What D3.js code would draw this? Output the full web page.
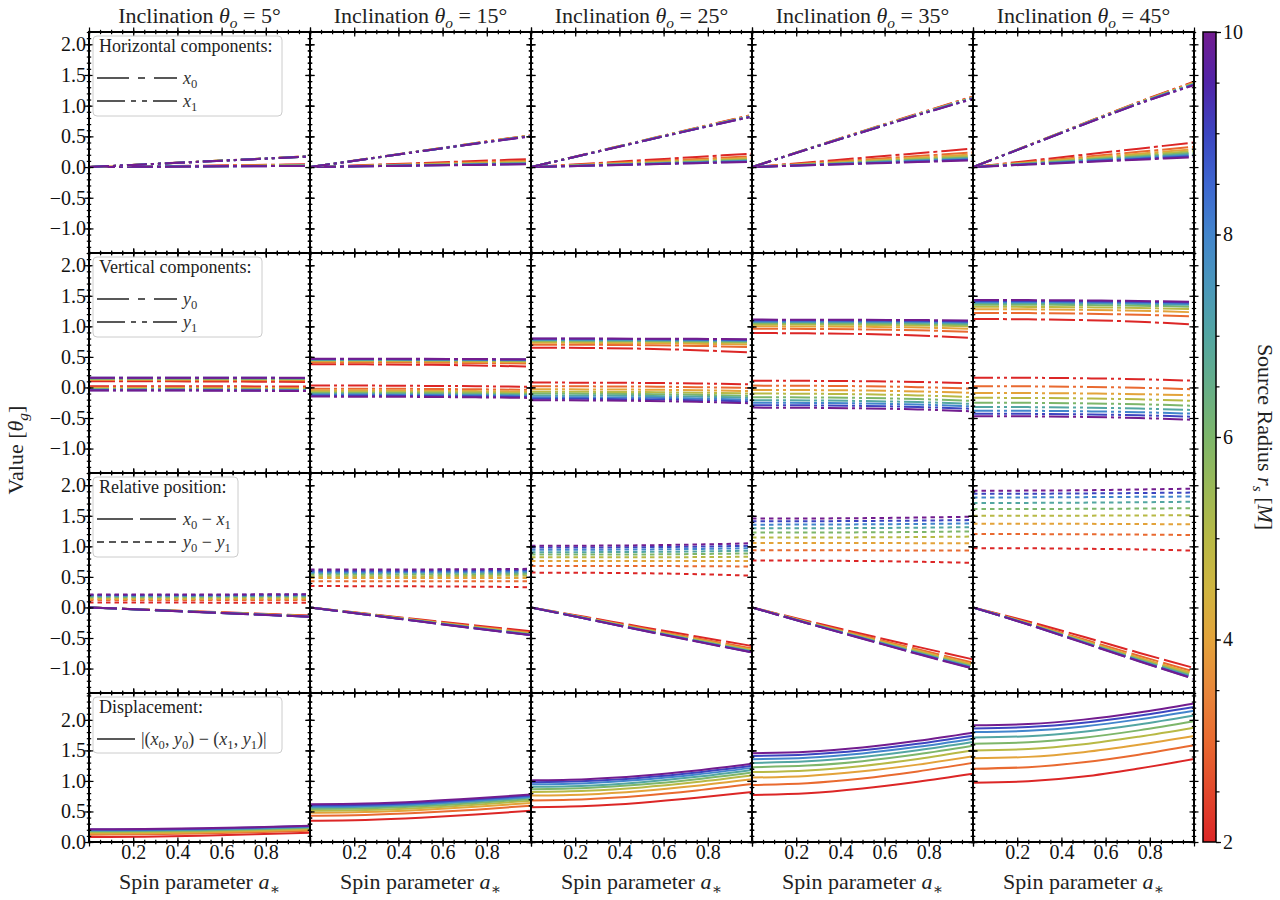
<!DOCTYPE html>
<html>
<head>
<meta charset="utf-8">
<script src="https://cdnjs.cloudflare.com/ajax/libs/d3/7.8.5/d3.min.js"></script>
<style>
  body { margin: 0; background: #fff; }
  svg { font-family: "Liberation Serif", "DejaVu Serif", serif; }
</style>
</head>
<body>
<svg id="chart" width="1280" height="900"></svg>
<script>
const inclinations = [5, 15, 25, 35, 45];
const radii = [2, 3, 4, 5, 6, 7, 8, 9, 10];
const spins = [0, 0.25, 0.5, 0.75, 1.0];
const yTicksUpper = [-1.0, -0.5, 0.0, 0.5, 1.0, 1.5, 2.0];
const yTicksLower = [0.0, 0.5, 1.0, 1.5, 2.0];
const xTicks = [0.2, 0.4, 0.6, 0.8];
const cbarTicks = [2, 4, 6, 8, 10];

// values: [inclination][radius][spin sample]
const x0Vals = [
  [[0,0.011,0.022,0.034,0.045],[0,0.009,0.018,0.027,0.036],[0,0.008,0.016,0.023,0.031],[0,0.007,0.014,0.021,0.028],[0,0.006,0.013,0.019,0.025],[0,0.006,0.012,0.017,0.023],[0,0.005,0.011,0.016,0.021],[0,0.005,0.010,0.014,0.019],[0,0.005,0.009,0.014,0.018]],
  [[0,0.032,0.065,0.098,0.13],[0,0.026,0.052,0.079,0.105],[0,0.022,0.045,0.068,0.09],[0,0.020,0.039,0.058,0.078],[0,0.017,0.034,0.052,0.069],[0,0.015,0.031,0.046,0.062],[0,0.014,0.028,0.042,0.056],[0,0.013,0.026,0.038,0.051],[0,0.012,0.024,0.035,0.047]],
  [[0,0.055,0.11,0.165,0.22],[0,0.044,0.088,0.131,0.175],[0,0.038,0.075,0.112,0.15],[0,0.033,0.066,0.099,0.132],[0,0.029,0.058,0.088,0.117],[0,0.027,0.053,0.080,0.106],[0,0.024,0.049,0.073,0.097],[0,0.022,0.045,0.068,0.09],[0,0.021,0.042,0.064,0.085]],
  [[0,0.075,0.15,0.225,0.30],[0,0.06,0.12,0.18,0.24],[0,0.051,0.102,0.154,0.205],[0,0.045,0.09,0.135,0.18],[0,0.04,0.08,0.12,0.16],[0,0.036,0.072,0.109,0.145],[0,0.033,0.066,0.099,0.132],[0,0.03,0.06,0.09,0.12],[0,0.028,0.055,0.082,0.11]],
  [[0,0.10,0.20,0.30,0.40],[0,0.082,0.165,0.248,0.33],[0,0.072,0.145,0.218,0.29],[0,0.065,0.13,0.195,0.26],[0,0.059,0.118,0.176,0.235],[0,0.053,0.106,0.159,0.212],[0,0.048,0.096,0.145,0.193],[0,0.044,0.088,0.132,0.176],[0,0.04,0.08,0.12,0.16]]
];
const x1Vals = [
  [[0,0.044,0.088,0.132,0.178],[0,0.044,0.088,0.131,0.177],[0,0.043,0.087,0.131,0.176],[0,0.043,0.087,0.130,0.175],[0,0.043,0.087,0.130,0.175],[0,0.043,0.086,0.130,0.174],[0,0.043,0.086,0.129,0.173],[0,0.043,0.086,0.129,0.173],[0,0.043,0.086,0.129,0.172]],
  [[0,0.131,0.262,0.392,0.52],[0,0.130,0.260,0.389,0.516],[0,0.130,0.259,0.387,0.513],[0,0.129,0.258,0.386,0.511],[0,0.129,0.257,0.385,0.509],[0,0.129,0.257,0.384,0.507],[0,0.128,0.256,0.383,0.505],[0,0.128,0.256,0.382,0.503],[0,0.128,0.255,0.381,0.50]],
  [[0,0.213,0.428,0.64,0.85],[0,0.212,0.425,0.636,0.845],[0,0.211,0.423,0.633,0.84],[0,0.21,0.421,0.631,0.836],[0,0.21,0.42,0.629,0.833],[0,0.209,0.419,0.627,0.83],[0,0.209,0.418,0.625,0.827],[0,0.208,0.417,0.623,0.824],[0,0.208,0.416,0.622,0.82]],
  [[0,0.296,0.585,0.87,1.15],[0,0.294,0.58,0.864,1.143],[0,0.293,0.578,0.86,1.137],[0,0.292,0.576,0.857,1.132],[0,0.291,0.574,0.854,1.128],[0,0.29,0.572,0.851,1.124],[0,0.289,0.57,0.849,1.12],[0,0.288,0.569,0.847,1.115],[0,0.287,0.567,0.845,1.11]],
  [[0,0.355,0.71,1.06,1.39],[0,0.354,0.707,1.055,1.38],[0,0.352,0.704,1.05,1.372],[0,0.351,0.702,1.046,1.365],[0,0.35,0.70,1.042,1.358],[0,0.349,0.698,1.039,1.352],[0,0.348,0.696,1.036,1.346],[0,0.347,0.694,1.033,1.34],[0,0.346,0.692,1.03,1.333]]
];
const y0Vals = [
  [[0.10,0.10,0.098,0.095,0.09],[0.12,0.12,0.119,0.118,0.115],[0.13,0.13,0.129,0.128,0.126],[0.14,0.14,0.139,0.138,0.137],[0.145,0.145,0.145,0.144,0.143],[0.15,0.15,0.15,0.149,0.148],[0.155,0.155,0.155,0.154,0.153],[0.158,0.158,0.158,0.157,0.156],[0.16,0.16,0.16,0.159,0.158]],
  [[0.38,0.378,0.372,0.36,0.34],[0.41,0.409,0.406,0.40,0.39],[0.43,0.429,0.426,0.42,0.41],[0.44,0.44,0.438,0.435,0.43],[0.45,0.45,0.448,0.445,0.44],[0.455,0.455,0.453,0.45,0.445],[0.46,0.46,0.458,0.455,0.45],[0.465,0.465,0.463,0.46,0.455],[0.47,0.47,0.468,0.465,0.46]],
  [[0.65,0.646,0.634,0.61,0.57],[0.70,0.698,0.692,0.68,0.66],[0.73,0.729,0.724,0.715,0.70],[0.75,0.749,0.746,0.74,0.73],[0.765,0.764,0.761,0.755,0.745],[0.775,0.774,0.772,0.768,0.76],[0.785,0.785,0.782,0.778,0.77],[0.795,0.795,0.792,0.788,0.78],[0.80,0.80,0.798,0.795,0.79]],
  [[0.89,0.886,0.874,0.85,0.81],[0.96,0.958,0.95,0.935,0.91],[1.0,0.998,0.992,0.98,0.96],[1.03,1.029,1.024,1.015,1.0],[1.05,1.049,1.045,1.038,1.025],[1.07,1.069,1.066,1.06,1.045],[1.085,1.084,1.081,1.076,1.065],[1.10,1.099,1.096,1.09,1.08],[1.11,1.109,1.107,1.103,1.095]],
  [[1.12,1.115,1.102,1.075,1.03],[1.22,1.217,1.208,1.19,1.16],[1.28,1.278,1.27,1.255,1.23],[1.32,1.318,1.312,1.30,1.28],[1.355,1.353,1.348,1.338,1.32],[1.38,1.378,1.374,1.365,1.35],[1.40,1.398,1.394,1.385,1.37],[1.415,1.414,1.41,1.403,1.39],[1.43,1.429,1.424,1.415,1.40]]
];
const y1Vals = [
  [[0.02,0.02,0.019,0.017,0.015],[0.0,0.0,-0.001,-0.003,-0.006],[-0.01,-0.01,-0.011,-0.014,-0.017],[-0.02,-0.02,-0.021,-0.024,-0.028],[-0.03,-0.03,-0.031,-0.034,-0.038],[-0.035,-0.035,-0.036,-0.039,-0.044],[-0.04,-0.04,-0.041,-0.045,-0.05],[-0.045,-0.045,-0.046,-0.05,-0.055],[-0.05,-0.05,-0.052,-0.055,-0.06]],
  [[0.03,0.03,0.026,0.02,0.01],[-0.02,-0.02,-0.024,-0.03,-0.04],[-0.05,-0.05,-0.054,-0.06,-0.07],[-0.07,-0.07,-0.074,-0.08,-0.09],[-0.09,-0.09,-0.094,-0.10,-0.11],[-0.11,-0.11,-0.114,-0.12,-0.13],[-0.12,-0.121,-0.125,-0.132,-0.142],[-0.135,-0.136,-0.14,-0.147,-0.158],[-0.15,-0.151,-0.155,-0.162,-0.172]],
  [[0.08,0.078,0.074,0.065,0.05],[0.02,0.018,0.014,0.005,-0.01],[-0.03,-0.032,-0.036,-0.045,-0.06],[-0.07,-0.072,-0.076,-0.085,-0.10],[-0.10,-0.102,-0.108,-0.12,-0.14],[-0.13,-0.132,-0.138,-0.15,-0.17],[-0.16,-0.162,-0.168,-0.18,-0.20],[-0.185,-0.187,-0.194,-0.208,-0.23],[-0.21,-0.212,-0.22,-0.235,-0.26]],
  [[0.11,0.108,0.102,0.09,0.07],[0.03,0.027,0.02,0.005,-0.02],[-0.04,-0.043,-0.05,-0.065,-0.09],[-0.10,-0.103,-0.112,-0.13,-0.16],[-0.16,-0.163,-0.172,-0.19,-0.22],[-0.21,-0.213,-0.222,-0.24,-0.27],[-0.25,-0.253,-0.262,-0.28,-0.31],[-0.29,-0.293,-0.302,-0.32,-0.35],[-0.33,-0.333,-0.342,-0.36,-0.39]],
  [[0.16,0.158,0.15,0.135,0.11],[0.02,0.018,0.01,-0.005,-0.03],[-0.09,-0.092,-0.098,-0.11,-0.13],[-0.17,-0.172,-0.18,-0.195,-0.22],[-0.25,-0.252,-0.26,-0.275,-0.30],[-0.32,-0.322,-0.33,-0.345,-0.37],[-0.38,-0.382,-0.39,-0.405,-0.43],[-0.43,-0.432,-0.44,-0.455,-0.48],[-0.47,-0.473,-0.482,-0.50,-0.53]]
];
const dxVals = [
  [[0,-0.033,-0.066,-0.098,-0.133],[0,-0.035,-0.07,-0.104,-0.141],[0,-0.035,-0.071,-0.108,-0.145],[0,-0.036,-0.073,-0.109,-0.147],[0,-0.037,-0.074,-0.111,-0.15],[0,-0.037,-0.074,-0.113,-0.151],[0,-0.038,-0.075,-0.113,-0.152],[0,-0.038,-0.076,-0.115,-0.154],[0,-0.038,-0.077,-0.115,-0.154]],
  [[0,-0.099,-0.197,-0.294,-0.39],[0,-0.104,-0.208,-0.31,-0.411],[0,-0.108,-0.214,-0.319,-0.423],[0,-0.109,-0.219,-0.328,-0.433],[0,-0.112,-0.223,-0.333,-0.44],[0,-0.114,-0.226,-0.338,-0.445],[0,-0.114,-0.228,-0.341,-0.449],[0,-0.115,-0.23,-0.344,-0.452],[0,-0.116,-0.231,-0.346,-0.453]],
  [[0,-0.158,-0.318,-0.475,-0.63],[0,-0.168,-0.337,-0.505,-0.67],[0,-0.173,-0.348,-0.521,-0.69],[0,-0.177,-0.355,-0.532,-0.704],[0,-0.181,-0.362,-0.541,-0.716],[0,-0.182,-0.366,-0.547,-0.724],[0,-0.185,-0.369,-0.552,-0.73],[0,-0.186,-0.372,-0.555,-0.734],[0,-0.187,-0.374,-0.558,-0.735]],
  [[0,-0.221,-0.435,-0.645,-0.85],[0,-0.234,-0.46,-0.684,-0.903],[0,-0.242,-0.476,-0.706,-0.932],[0,-0.247,-0.486,-0.722,-0.952],[0,-0.251,-0.494,-0.734,-0.968],[0,-0.254,-0.50,-0.745,-0.979],[0,-0.256,-0.504,-0.75,-0.988],[0,-0.258,-0.509,-0.757,-0.995],[0,-0.259,-0.512,-0.763,-1.0]],
  [[0,-0.23,-0.48,-0.74,-0.99],[0,-0.25,-0.52,-0.79,-1.05],[0,-0.26,-0.54,-0.82,-1.08],[0,-0.265,-0.55,-0.84,-1.105],[0,-0.27,-0.56,-0.85,-1.125],[0,-0.273,-0.567,-0.862,-1.14],[0,-0.276,-0.572,-0.87,-1.153],[0,-0.278,-0.576,-0.876,-1.164],[0,-0.28,-0.58,-0.88,-1.17]]
];
const dyVals = [
  [[0.08,0.08,0.079,0.078,0.075],[0.12,0.12,0.12,0.121,0.121],[0.14,0.14,0.14,0.142,0.143],[0.16,0.16,0.16,0.162,0.165],[0.175,0.175,0.176,0.178,0.181],[0.185,0.185,0.186,0.188,0.192],[0.195,0.195,0.196,0.199,0.203],[0.203,0.203,0.204,0.207,0.211],[0.21,0.21,0.212,0.214,0.218]],
  [[0.35,0.348,0.345,0.34,0.33],[0.43,0.43,0.43,0.43,0.43],[0.48,0.48,0.48,0.48,0.48],[0.51,0.51,0.512,0.515,0.52],[0.54,0.54,0.542,0.545,0.55],[0.565,0.565,0.567,0.57,0.575],[0.58,0.58,0.582,0.586,0.592],[0.60,0.60,0.602,0.607,0.613],[0.62,0.62,0.622,0.626,0.632]],
  [[0.57,0.567,0.56,0.545,0.52],[0.68,0.68,0.678,0.675,0.67],[0.76,0.76,0.76,0.76,0.76],[0.82,0.82,0.821,0.824,0.83],[0.865,0.865,0.867,0.874,0.885],[0.905,0.905,0.909,0.916,0.93],[0.945,0.945,0.949,0.957,0.97],[0.98,0.981,0.986,0.995,1.01],[1.01,1.011,1.017,1.03,1.05]],
  [[0.77,0.767,0.76,0.748,0.73],[0.935,0.935,0.934,0.932,0.93],[1.055,1.055,1.054,1.052,1.05],[1.145,1.145,1.147,1.152,1.16],[1.225,1.226,1.229,1.235,1.245],[1.295,1.296,1.299,1.305,1.315],[1.355,1.356,1.36,1.366,1.375],[1.41,1.411,1.415,1.421,1.43],[1.455,1.456,1.461,1.471,1.485]],
  [[0.97,0.968,0.96,0.95,0.93],[1.20,1.20,1.197,1.192,1.185],[1.37,1.37,1.368,1.365,1.36],[1.50,1.50,1.502,1.505,1.51],[1.61,1.611,1.614,1.618,1.625],[1.71,1.711,1.715,1.721,1.73],[1.80,1.801,1.805,1.81,1.815],[1.86,1.861,1.866,1.872,1.88],[1.91,1.912,1.918,1.93,1.945]]
];
const dispVals = [
  [[0.08,0.087,0.103,0.125,0.153],[0.12,0.125,0.139,0.16,0.186],[0.14,0.144,0.157,0.178,0.204],[0.16,0.164,0.176,0.196,0.221],[0.175,0.179,0.19,0.21,0.235],[0.185,0.189,0.2,0.219,0.244],[0.195,0.199,0.21,0.229,0.254],[0.203,0.206,0.218,0.236,0.261],[0.21,0.213,0.226,0.243,0.267]],
  [[0.35,0.362,0.397,0.449,0.511],[0.43,0.442,0.478,0.53,0.595],[0.48,0.492,0.526,0.576,0.64],[0.51,0.522,0.557,0.611,0.677],[0.54,0.551,0.586,0.639,0.704],[0.565,0.576,0.61,0.663,0.727],[0.58,0.591,0.625,0.678,0.743],[0.60,0.611,0.644,0.698,0.762],[0.62,0.631,0.664,0.715,0.778]],
  [[0.57,0.589,0.644,0.723,0.817],[0.68,0.70,0.757,0.843,0.948],[0.76,0.779,0.836,0.921,1.026],[0.82,0.839,0.894,0.981,1.088],[0.865,0.884,0.94,1.028,1.138],[0.905,0.923,0.98,1.067,1.179],[0.945,0.963,1.018,1.105,1.214],[0.98,0.998,1.054,1.139,1.249],[1.01,1.028,1.084,1.171,1.282]],
  [[0.77,0.798,0.876,0.988,1.12],[0.935,0.964,1.041,1.156,1.296],[1.055,1.082,1.157,1.267,1.404],[1.145,1.171,1.246,1.359,1.501],[1.225,1.251,1.324,1.437,1.577],[1.295,1.321,1.392,1.503,1.639],[1.355,1.38,1.45,1.558,1.693],[1.41,1.434,1.504,1.61,1.742],[1.455,1.479,1.548,1.657,1.79]],
  [[0.97,0.995,1.073,1.204,1.358],[1.20,1.226,1.305,1.43,1.583],[1.37,1.394,1.471,1.592,1.737],[1.50,1.523,1.60,1.724,1.871],[1.61,1.633,1.708,1.828,1.976],[1.71,1.733,1.806,1.925,2.072],[1.80,1.822,1.893,2.008,2.15],[1.86,1.882,1.953,2.067,2.211],[1.91,1.932,2.004,2.121,2.27]]
];

// colormap: source radius -> colour
const cmapStops = [2, 2.5, 3, 3.5, 4, 4.5, 5, 5.5, 6, 6.5, 7, 7.5, 8, 8.5, 9, 9.5, 10];
const cmapColors = ["#dc2626", "#e2482c", "#e96a30", "#e8873a", "#e3a33a", "#d0b540", "#b8b945",
  "#9bb957", "#7db66a", "#66ae88", "#53a6a2", "#4a97bb", "#4285cc", "#3d66d0", "#3c45c0", "#5124a8", "#721c8f"];

const frame = {left: 89, top: 32, colWidth: 221, rowHeights: [221, 220, 220, 149]};
const rowTops = frame.rowHeights.map((h, i) => frame.top + d3.sum(frame.rowHeights.slice(0, i)));
const bottom = frame.top + d3.sum(frame.rowHeights);

const DASH_DOT = "26,4,4,4";
const DASH_DOT_DOT = "20,4,3,4,3,4";
const LONG_DASH = "28,5";
const SHORT_DASH = "4.5,4";

const LABEL_SIZE = 22;
const TICK_SIZE = 20;
const LEGEND_SIZE = 18;

const rows = [
  {domain: [-1.4, 2.2], ticks: yTicksUpper, title: "Horizontal components:", boxW: 189, handle: 80,
   series: [
     {values: x0Vals, dash: DASH_DOT, legendDash: "32,9,7,9", label: [["x", "i"], ["0", "s"]]},
     {values: x1Vals, dash: DASH_DOT_DOT, legendDash: "28,6,5,6,5,6", label: [["x", "i"], ["1", "s"]]}
   ]},
  {domain: [-1.4, 2.2], ticks: yTicksUpper, title: "Vertical components:", boxW: 169, handle: 80,
   series: [
     {values: y0Vals, dash: DASH_DOT, legendDash: "32,9,7,9", label: [["y", "i"], ["0", "s"]]},
     {values: y1Vals, dash: DASH_DOT_DOT, legendDash: "28,6,5,6,5,6", label: [["y", "i"], ["1", "s"]]}
   ]},
  {domain: [-1.4, 2.2], ticks: yTicksUpper, title: "Relative position:", boxW: 145, handle: 80,
   series: [
     {values: dxVals, dash: LONG_DASH, legendDash: "36,7", label: [["x", "i"], ["0", "s"], [" − ", "n"], ["x", "i"], ["1", "s"]]},
     {values: dyVals, dash: SHORT_DASH, legendDash: "7,5", label: [["y", "i"], ["0", "s"], [" − ", "n"], ["y", "i"], ["1", "s"]]}
   ]},
  {domain: [0, 2.44], ticks: yTicksLower, title: "Displacement:", boxW: 189, handle: 38,
   series: [
     {values: dispVals, dash: null, legendDash: null,
      label: [["|(", "n"], ["x", "i"], ["0", "s"], [", ", "n"], ["y", "i"], ["0", "s"], [") − (", "n"],
              ["x", "i"], ["1", "s"], [", ", "n"], ["y", "i"], ["1", "s"], [")|", "n"]]}
   ]}
];

// write text with italic parts and subscripts
const mathText = (sel, parts, size) => {
  let shift = 0;
  parts.forEach(([txt, kind]) => {
    const sub = kind.startsWith("s");
    const target = sub ? size * 0.22 : 0;
    sel.append("tspan")
      .attr("dy", target - shift)
      .attr("font-size", sub ? size * 0.7 : size)
      .attr("font-style", kind === "i" || kind === "si" ? "italic" : "normal")
      .text(txt);
    shift = target;
  });
  return sel;
};

const styleAxis = (g, size) => {
  g.attr("font-family", null).attr("font-size", size);
  g.select(".domain").remove();
  g.selectAll(".tick line").attr("stroke", "#000").attr("stroke-width", 1.2);
  g.selectAll(".tick text").attr("fill", "#111");
};

const drawChart = () => {
  const svg = d3.select("#chart");
  const colorScale = d3.scaleLinear().domain(cmapStops).range(cmapColors).interpolate(d3.interpolateRgb);
  const x = d3.scaleLinear().domain([0, 1]).range([0, frame.colWidth]);
  const xMinor = d3.range(0, 21).map(d => d / 20);
  const fmt = d3.format(".1f");

  rows.forEach((row, ri) => {
    const h = frame.rowHeights[ri];
    const y = d3.scaleLinear().domain(row.domain).range([h, 0]);
    const yMinor = d3.range(Math.ceil(row.domain[0] * 10), Math.floor(row.domain[1] * 10) + 1).map(d => d / 10);
    const line = d3.line().x(d => x(d[0])).y(d => y(d[1])).curve(d3.curveMonotoneX);

    inclinations.forEach((inc, ci) => {
      const g = svg.append("g")
        .attr("transform", `translate(${frame.left + ci * frame.colWidth},${rowTops[ri]})`);
      const clipId = `clip-${ri}-${ci}`;
      g.append("clipPath").attr("id", clipId)
        .append("rect").attr("width", frame.colWidth).attr("height", h);

      const lines = g.append("g").attr("clip-path", `url(#${clipId})`);
      row.series.forEach(s => {
        radii.forEach((r, k) => {
          const pts = spins.map((a, j) => [a, s.values[ci][k][j]]);
          lines.append("path")
            .attr("d", line(pts))
            .attr("fill", "none")
            .attr("stroke", colorScale(r))
            .attr("stroke-width", 2)
            .attr("stroke-dasharray", s.dash);
        });
      });

      // ticks on all four sides, straddling the spines
      const marks = [
        [d3.axisLeft(y), row.ticks, yMinor, "translate(4.5,0)", "translate(2.2,0)"],
        [d3.axisRight(y), row.ticks, yMinor, `translate(${frame.colWidth - 4.5},0)`, `translate(${frame.colWidth - 2.2},0)`],
        [d3.axisTop(x), [0, ...xTicks, 1], xMinor, "translate(0,4.5)", "translate(0,2.2)"],
        [d3.axisBottom(x), [0, ...xTicks, 1], xMinor, `translate(0,${h - 4.5})`, `translate(0,${h - 2.2})`]
      ];
      marks.forEach(([axis, major, minor, tMajor, tMinor]) => {
        g.append("g").attr("transform", tMinor)
          .call(axis.tickValues(minor).tickSize(4.4).tickSizeOuter(0).tickFormat(""))
          .call(a => styleAxis(a, 10));
        g.append("g").attr("transform", tMajor)
          .call(axis.tickValues(major).tickSize(9).tickSizeOuter(0).tickFormat(""))
          .call(a => styleAxis(a, 10));
      });

      g.append("rect")
        .attr("width", frame.colWidth).attr("height", h)
        .attr("fill", "none").attr("stroke", "#000").attr("stroke-width", 2);

      if (ci === 0) {
        g.append("g")
          .call(d3.axisLeft(y).tickValues(row.ticks).tickSize(0).tickPadding(3).tickFormat(fmt))
          .call(a => styleAxis(a, TICK_SIZE));
      }
      if (ri === rows.length - 1) {
        g.append("g").attr("transform", `translate(0,${h})`)
          .call(d3.axisBottom(x).tickValues(xTicks).tickSize(0).tickPadding(3).tickFormat(fmt))
          .call(a => styleAxis(a, TICK_SIZE));
      }
    });

    // legend in the first column
    const nEntries = row.series.length;
    const boxH = nEntries === 2 ? 80 : 56;
    const lg = svg.append("g").attr("transform", `translate(${frame.left + 4},${rowTops[ri] + 4})`);
    lg.append("rect")
      .attr("width", row.boxW).attr("height", boxH).attr("rx", 4)
      .attr("fill", "#fff").attr("fill-opacity", 0.85)
      .attr("stroke", "#cccccc").attr("stroke-width", 1);
    lg.append("text").attr("x", 6).attr("y", 16).attr("font-size", LEGEND_SIZE).attr("fill", "#222")
      .text(row.title);
    row.series.forEach((s, i) => {
      const ly = 42 + i * 23;
      lg.append("line")
        .attr("x1", 4).attr("x2", 4 + row.handle).attr("y1", ly).attr("y2", ly)
        .attr("stroke", "#222").attr("stroke-width", 1.4)
        .attr("stroke-dasharray", s.legendDash);
      mathText(lg.append("text").attr("x", row.handle + 10).attr("y", ly + 6).attr("fill", "#333"),
        s.label, LEGEND_SIZE);
    });
  });

  // column titles and x labels
  inclinations.forEach((inc, ci) => {
    const cx = frame.left + ci * frame.colWidth + frame.colWidth / 2;
    mathText(svg.append("text").attr("x", cx).attr("y", 23).attr("text-anchor", "middle").attr("fill", "#222"),
      [["Inclination ", "n"], ["θ", "i"], ["o", "si"], [` = ${inc}°`, "n"]], LABEL_SIZE);
    mathText(svg.append("text").attr("x", cx).attr("y", 889).attr("text-anchor", "middle").attr("fill", "#222"),
      [["Spin parameter ", "n"], ["a", "i"], ["∗", "s"]], LABEL_SIZE);
  });

  mathText(svg.append("text")
      .attr("transform", "translate(23,450) rotate(-90)")
      .attr("text-anchor", "middle").attr("fill", "#222"),
    [["Value [", "n"], ["θ", "i"], ["g", "si"], ["]", "n"]], LABEL_SIZE);

  // colorbar
  const cb = {x: 1203, width: 13};
  const cScale = d3.scaleLinear().domain([2, 10]).range([bottom, frame.top]);
  const grad = svg.append("defs").append("linearGradient")
    .attr("id", "cbar-grad").attr("x1", 0).attr("y1", 1).attr("x2", 0).attr("y2", 0);
  cmapStops.forEach((v, i) => {
    grad.append("stop").attr("offset", (v - 2) / 8).attr("stop-color", cmapColors[i]);
  });
  svg.append("rect")
    .attr("x", cb.x).attr("y", frame.top).attr("width", cb.width).attr("height", bottom - frame.top)
    .attr("fill", "url(#cbar-grad)").attr("stroke", "#000").attr("stroke-width", 1.5);
  svg.append("g").attr("transform", `translate(${cb.x + cb.width},0)`)
    .call(d3.axisRight(cScale).tickValues(d3.range(4, 21).map(d => d / 2)).tickSize(3.5).tickSizeOuter(0).tickFormat(""))
    .call(a => styleAxis(a, 10));
  svg.append("g").attr("transform", `translate(${cb.x + cb.width},0)`)
    .call(d3.axisRight(cScale).tickValues(cbarTicks).tickSize(5).tickSizeOuter(0).tickPadding(2))
    .call(a => styleAxis(a, TICK_SIZE));

  mathText(svg.append("text")
      .attr("transform", `translate(1258,${(frame.top + bottom) / 2}) rotate(90)`)
      .attr("text-anchor", "middle").attr("fill", "#222"),
    [["Source Radius ", "n"], ["r", "i"], ["s", "si"], [" [", "n"], ["M", "i"], ["]", "n"]], LABEL_SIZE);
};

window.onload = drawChart;
</script>
</body>
</html>
